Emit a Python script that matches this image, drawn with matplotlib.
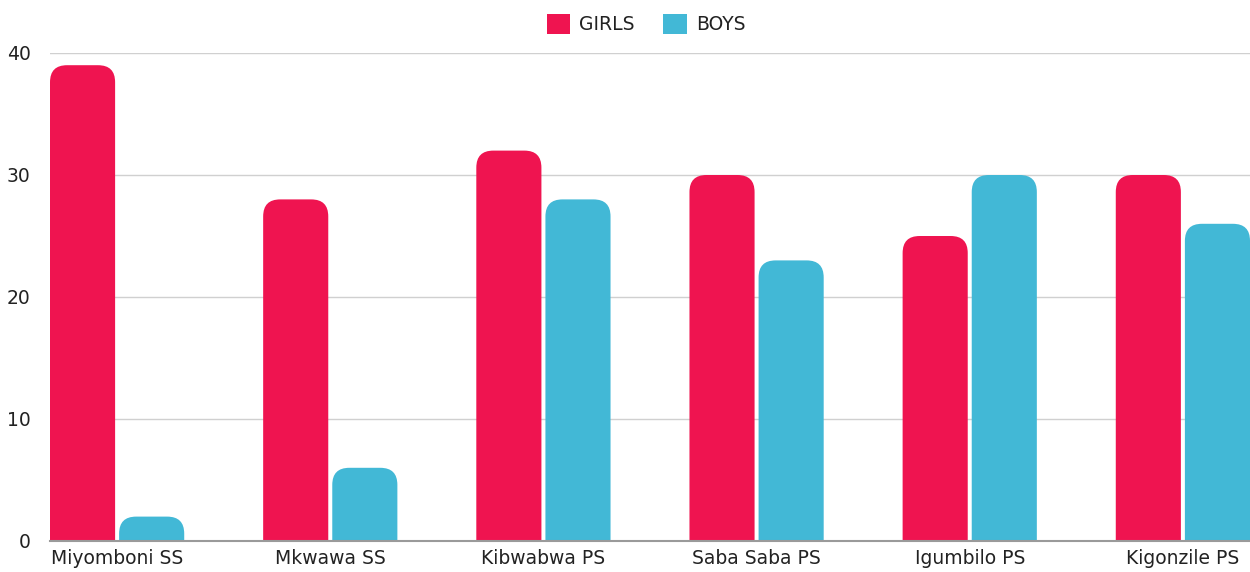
import matplotlib
matplotlib.use("Agg")
import matplotlib.pyplot as plt
from matplotlib.patches import FancyBboxPatch, Patch
import numpy as np

categories = ["Miyomboni SS", "Mkwawa SS", "Kibwabwa PS", "Saba Saba PS", "Igumbilo PS", "Kigonzile PS"]
girls = [39, 28, 32, 30, 25, 30]
boys = [2, 6, 28, 23, 30, 26]
series_names = ["GIRLS", "BOYS"]
colors = ["#EF1450", "#42B8D6"]
yticks = [0, 10, 20, 30, 40]

plt.rcParams['font.family'] = ['DejaVu Sans']

W, H = 1250, 572
fig = plt.figure(figsize=(W / 100, H / 100), dpi=100)
ax = fig.add_axes([50 / W, (H - 541) / H, 1200 / W, (541 - 53) / H])

x = np.arange(len(categories))
bw = 65 / 212.8
gap = 4 / 212.8
half = bw + gap / 2
ax.set_xlim(-half, len(categories) - 1 + half)
ax.set_ylim(0, 40)

xr = (len(categories) - 1 + 2 * half)
units_per_px_x = xr / 1200
units_per_px_y = 40 / 488
r_px = 17
r = r_px * units_per_px_x
aspect = units_per_px_y / units_per_px_x

for vals, color, off in [(girls, colors[0], -(bw + gap) / 2), (boys, colors[1], (bw + gap) / 2)]:
    for xi, v in zip(x, vals):
        left = xi + off - bw / 2
        bottom = -2
        p = FancyBboxPatch((left, bottom), bw, v - bottom,
                           boxstyle=f"round,pad=0,rounding_size={r}",
                           mutation_aspect=aspect,
                           facecolor=color, edgecolor="none", zorder=3)
        ax.add_patch(p)

ax.set_yticks(yticks)
ax.set_yticklabels([str(t) for t in yticks])
ax.set_xticks(x)
ax.set_xticklabels(categories)
ax.tick_params(axis='both', length=0, labelsize=13.5, colors="#222222")
ax.tick_params(axis='y', pad=14)
ax.tick_params(axis='x', pad=6)
ax.grid(axis='y', color="#d0d0d0", linewidth=1, zorder=0)
ax.set_axisbelow(True)
for s in ["top", "right", "left"]:
    ax.spines[s].set_visible(False)
ax.spines["bottom"].set_color("#9a9a9a")
ax.spines["bottom"].set_linewidth(1.5)
ax.spines["bottom"].set_zorder(4)

handles = [Patch(facecolor=c, edgecolor="none") for c in colors]
fig.legend(handles, series_names, loc="center", bbox_to_anchor=(646 / W, 1 - 24 / H),
           ncol=2, frameon=False, fontsize=13.5, handlelength=1.25, handleheight=1.25,
           handletextpad=0.5, columnspacing=1.5, labelcolor="#222222")

fig.savefig("out.png", dpi=100)
